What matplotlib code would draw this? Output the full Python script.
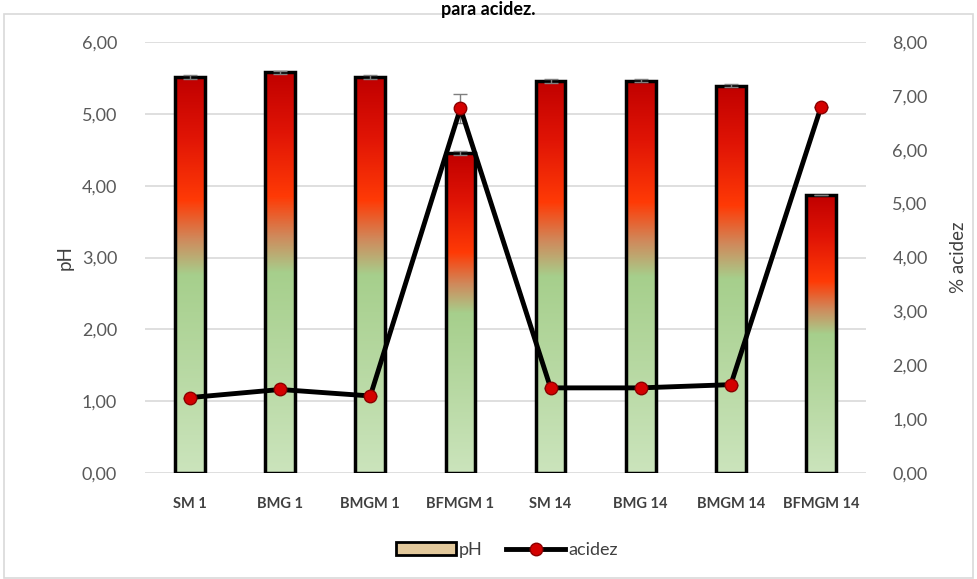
import numpy as np
import matplotlib
matplotlib.use("Agg")
import matplotlib.pyplot as plt
from matplotlib.colors import LinearSegmentedColormap
from matplotlib.patches import Rectangle
from matplotlib.lines import Line2D

plt.rcParams['font.family'] = ['Lato', 'DejaVu Sans']

# datos
categorias = ['SM 1', 'BMG 1', 'BMGM 1', 'BFMGM 1', 'SM 14', 'BMG 14', 'BMGM 14', 'BFMGM 14']
ph = [5.51, 5.58, 5.51, 4.45, 5.46, 5.46, 5.39, 3.87]
ph_err = [0.03, 0.02, 0.03, 0.03, 0.03, 0.02, 0.02, 0.0]
acidez = [1.40, 1.55, 1.43, 6.77, 1.58, 1.58, 1.64, 6.79]
acidez_err = [0.0, 0.0, 0.0, 0.27, 0.0, 0.0, 0.0, 0.0]

ph_ticks = [0, 1, 2, 3, 4, 5, 6]
acidez_ticks = [0, 1, 2, 3, 4, 5, 6, 7, 8]

def fmt(v):
    return f"{v:.2f}".replace('.', ',')

# degradado verde -> naranja -> rojo (de abajo hacia arriba)
grad = LinearSegmentedColormap.from_list('grad', [
    (0.00, '#cbe4bc'),
    (0.50, '#a6cf8c'),
    (0.59, '#cf8a5c'),
    (0.69, '#ff3a05'),
    (0.85, '#e01405'),
    (1.00, '#c00000'),
])

fig = plt.figure(figsize=(9.77, 5.79), dpi=100)
ax = fig.add_axes([145/977, 1-473/579, (866-145)/977, (473-42)/579])
ax2 = ax.twinx()

x = np.arange(len(categorias))

# barras pH con degradado
bars = ax.bar(x, ph, width=0.33, facecolor='none', edgecolor='black', linewidth=2.5, zorder=3)
g = np.linspace(0, 1, 256).reshape(-1, 1)
for b in bars:
    x0, y0 = b.get_x(), b.get_y()
    im = ax.imshow(g, cmap=grad, origin='lower', aspect='auto', zorder=2,
                   extent=[x0, x0 + b.get_width(), y0, y0 + b.get_height()])
    im.set_clip_path(b)
ax.errorbar(x, ph, yerr=ph_err, fmt='none', ecolor='#7f7f7f', elinewidth=1, capsize=5, zorder=4)

ax.set_xlim(-0.5, len(categorias) - 0.5)
ax.set_ylim(0, 6)
ax.set_yticks(ph_ticks)
ax.set_yticklabels([fmt(v) for v in ph_ticks])
ax.grid(axis='y', color='#d9d9d9', linewidth=1.2, zorder=0)
ax.set_axisbelow(True)
ax.set_xticks(x)
ax.set_xticklabels(categorias, fontsize=10.5, fontweight='bold', color='#404040')
ax.tick_params(axis='x', length=0, pad=17)
ax.tick_params(axis='y', length=0, pad=20, labelsize=13, labelcolor='#595959')
ax.set_ylabel('pH', fontsize=13.5, color='#404040', labelpad=6)

# linea acidez
ax2.errorbar(x, acidez, yerr=acidez_err, fmt='none', ecolor='#7f7f7f', elinewidth=1, capsize=5, zorder=4)
ax2.plot(x, acidez, color='black', linewidth=3.5, marker='o', markersize=9,
         markerfacecolor='#d40000', markeredgecolor='#8b0000', markeredgewidth=1, zorder=5)
ax2.set_ylim(0, 8)
ax2.set_yticks(acidez_ticks)
ax2.set_yticklabels([fmt(v) for v in acidez_ticks])
ax2.tick_params(axis='y', length=0, pad=19, labelsize=13, labelcolor='#595959')
ax2.set_ylabel('% acidez', fontsize=13.5, color='#404040', rotation=90, labelpad=16)

for a in (ax, ax2):
    for s in a.spines.values():
        s.set_visible(False)

# leyenda
h_ph = Rectangle((0, 0), 1, 1, facecolor='#e3c99c', edgecolor='black', linewidth=2)
h_ac = Line2D([], [], color='black', linewidth=3.5, marker='o', markersize=9,
              markerfacecolor='#d40000', markeredgecolor='#8b0000')
fig.legend([h_ph, h_ac], ['pH', 'acidez'], loc='center', bbox_to_anchor=(507/977, 1-550/579),
           ncol=2, frameon=False, fontsize=13, handlelength=3.3, handletextpad=0.15,
           columnspacing=1.3, labelcolor='#404040')

# marco y titulo
fig.patches.append(Rectangle((4/977, 1/579), 969/977, 1-15/579, transform=fig.transFigure,
                             fill=False, edgecolor='#d9d9d9', linewidth=1.2))
fig.text(0.5, 1-1/579, 'para acidez.', ha='center', va='top', fontsize=13,
         fontweight='bold', color='black')

fig.savefig('out.png', dpi=100)
